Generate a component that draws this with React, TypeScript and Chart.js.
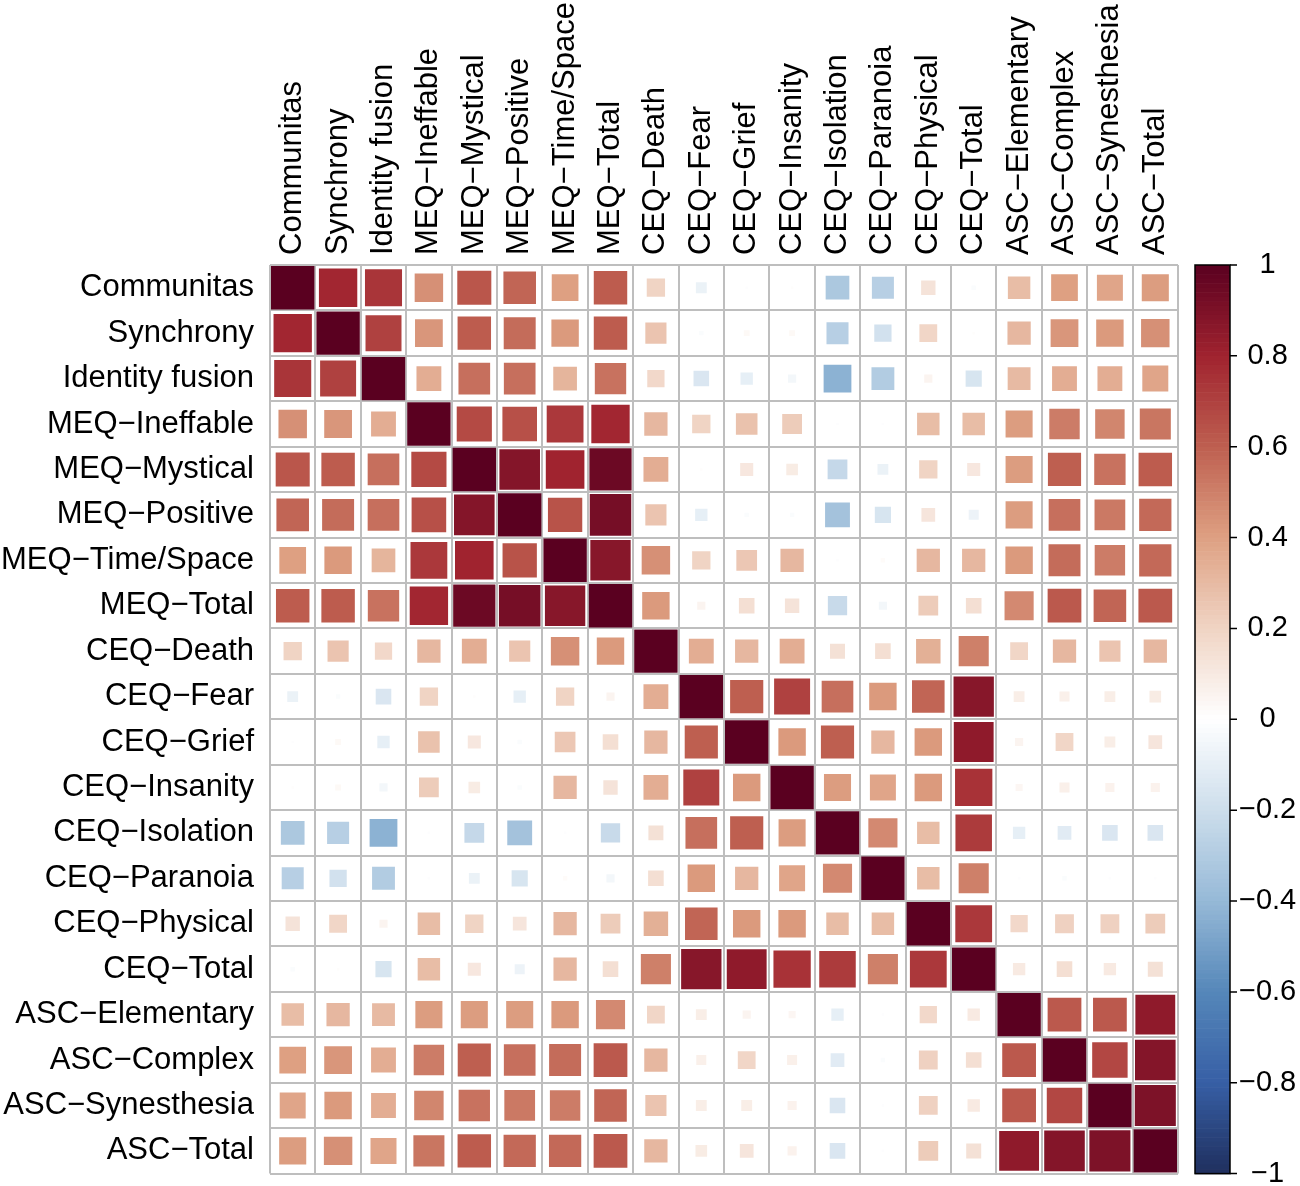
import React, { useEffect, useRef } from 'react';
import { Chart, registerables } from 'chart.js';

Chart.register(...registerables);

const M = '\u2212';

const variables = [
  'Communitas', 'Synchrony', 'Identity fusion',
  `MEQ${M}Ineffable`, `MEQ${M}Mystical`, `MEQ${M}Positive`, `MEQ${M}Time/Space`, `MEQ${M}Total`,
  `CEQ${M}Death`, `CEQ${M}Fear`, `CEQ${M}Grief`, `CEQ${M}Insanity`, `CEQ${M}Isolation`,
  `CEQ${M}Paranoia`, `CEQ${M}Physical`, `CEQ${M}Total`,
  `ASC${M}Elementary`, `ASC${M}Complex`, `ASC${M}Synesthesia`, `ASC${M}Total`,
];

const communitas  = [1.00, 0.79, 0.74, 0.45, 0.63, 0.58, 0.40, 0.61, 0.20, -0.08, -0.01, 0.01, -0.32, -0.28, 0.13, -0.02, 0.29, 0.40, 0.38, 0.41];
const synchrony   = [0.79, 1.00, 0.70, 0.43, 0.61, 0.56, 0.42, 0.61, 0.26, -0.02, 0.03, 0.03, -0.28, -0.18, 0.19, 0.01, 0.31, 0.43, 0.42, 0.45];
const identity    = [0.74, 0.70, 1.00, 0.35, 0.55, 0.55, 0.32, 0.54, 0.18, -0.15, -0.10, -0.05, -0.43, -0.30, 0.05, -0.16, 0.30, 0.35, 0.35, 0.38];
const meqIneff    = [0.45, 0.43, 0.35, 1.00, 0.67, 0.65, 0.73, 0.79, 0.31, 0.20, 0.27, 0.23, -0.01, -0.01, 0.29, 0.29, 0.41, 0.51, 0.48, 0.53];
const meqMystical = [0.63, 0.61, 0.55, 0.67, 1.00, 0.88, 0.80, 0.95, 0.35, 0.01, 0.11, 0.09, -0.23, -0.08, 0.20, 0.11, 0.41, 0.60, 0.54, 0.61];
const meqPositive = [0.58, 0.56, 0.55, 0.65, 0.88, 1.00, 0.64, 0.92, 0.26, -0.10, -0.02, -0.02, -0.35, -0.16, 0.12, -0.07, 0.41, 0.55, 0.52, 0.57];
const meqTime     = [0.40, 0.42, 0.32, 0.73, 0.80, 0.64, 1.00, 0.87, 0.45, 0.20, 0.25, 0.31, -0.01, 0.02, 0.31, 0.31, 0.42, 0.56, 0.51, 0.57];
const meqTotal    = [0.61, 0.61, 0.54, 0.79, 0.95, 0.92, 0.87, 1.00, 0.42, 0.05, 0.15, 0.13, -0.22, -0.05, 0.23, 0.15, 0.47, 0.62, 0.58, 0.62];
const ceqDeath    = [0.20, 0.26, 0.18, 0.31, 0.35, 0.26, 0.45, 0.42, 1.00, 0.35, 0.31, 0.35, 0.14, 0.15, 0.34, 0.50, 0.19, 0.31, 0.26, 0.31];
const ceqFear     = [-0.08, -0.02, -0.15, 0.20, 0.01, -0.10, 0.20, 0.05, 0.35, 1.00, 0.60, 0.70, 0.55, 0.42, 0.58, 0.87, 0.08, 0.07, 0.08, 0.09];
const ceqGrief    = [-0.01, 0.03, -0.10, 0.27, 0.11, -0.02, 0.25, 0.15, 0.31, 0.60, 1.00, 0.42, 0.60, 0.31, 0.42, 0.85, 0.05, 0.19, 0.08, 0.12];
const ceqInsanity = [0.01, 0.03, -0.05, 0.23, 0.09, -0.02, 0.31, 0.13, 0.35, 0.70, 0.42, 1.00, 0.41, 0.38, 0.42, 0.75, 0.04, 0.07, 0.06, 0.06];
const ceqIsolation= [-0.32, -0.28, -0.43, -0.01, -0.23, -0.35, -0.01, -0.22, 0.14, 0.55, 0.60, 0.41, 1.00, 0.47, 0.29, 0.72, -0.10, -0.12, -0.15, -0.15];
const ceqParanoia = [-0.28, -0.18, -0.30, -0.01, -0.08, -0.16, 0.02, -0.05, 0.15, 0.42, 0.31, 0.38, 0.47, 1.00, 0.29, 0.50, -0.01, -0.02, -0.01, -0.01];
const ceqPhysical = [0.13, 0.19, 0.05, 0.29, 0.20, 0.12, 0.31, 0.23, 0.34, 0.58, 0.42, 0.42, 0.29, 0.29, 1.00, 0.73, 0.18, 0.21, 0.21, 0.23];
const ceqTotal    = [-0.02, 0.01, -0.16, 0.29, 0.11, -0.07, 0.31, 0.15, 0.50, 0.87, 0.85, 0.75, 0.72, 0.50, 0.73, 1.00, 0.10, 0.15, 0.10, 0.14];
const ascElem     = [0.29, 0.31, 0.30, 0.41, 0.41, 0.41, 0.42, 0.47, 0.19, 0.08, 0.05, 0.04, -0.10, -0.01, 0.18, 0.10, 1.00, 0.62, 0.62, 0.85];
const ascComplex  = [0.40, 0.43, 0.35, 0.51, 0.60, 0.55, 0.56, 0.62, 0.31, 0.07, 0.19, 0.07, -0.12, -0.02, 0.21, 0.15, 0.62, 1.00, 0.68, 0.88];
const ascSyn      = [0.38, 0.42, 0.35, 0.48, 0.54, 0.52, 0.51, 0.58, 0.26, 0.08, 0.08, 0.06, -0.15, -0.01, 0.21, 0.10, 0.62, 0.68, 1.00, 0.90];
const ascTotal    = [0.41, 0.45, 0.38, 0.53, 0.61, 0.57, 0.57, 0.62, 0.31, 0.09, 0.12, 0.06, -0.15, -0.01, 0.23, 0.14, 0.85, 0.88, 0.90, 1.00];

const matrixRows = [
  communitas, synchrony, identity, meqIneff, meqMystical, meqPositive, meqTime, meqTotal,
  ceqDeath, ceqFear, ceqGrief, ceqInsanity, ceqIsolation, ceqParanoia, ceqPhysical, ceqTotal,
  ascElem, ascComplex, ascSyn, ascTotal,
];

const legendTicks = [-1, -0.8, -0.6, -0.4, -0.2, 0, 0.2, 0.4, 0.6, 0.8, 1];

// colour stops at -1, -0.8, ..., 0.8, 1
const palette = ['#1F2F5E', '#375FA5', '#5587B9', '#96B9D7', '#CDDEEC', '#FFFFFF',
  '#F0D4C4', '#DEA082', '#BE5F50', '#A0232F', '#5A0020'];

function hexToRgb(h: string) {
  return [parseInt(h.slice(1, 3), 16), parseInt(h.slice(3, 5), 16), parseInt(h.slice(5, 7), 16)];
}

function colorFor(r: number) {
  const t = ((r + 1) / 2) * 10;
  const i = Math.max(0, Math.min(9, Math.floor(t)));
  const f = Math.max(0, Math.min(1, t - i));
  const a = hexToRgb(palette[i]);
  const b = hexToRgb(palette[i + 1]);
  const c = a.map((v, k) => Math.round(v + (b[k] - v) * f));
  return `rgb(${c[0]},${c[1]},${c[2]})`;
}

const FONT = '"Liberation Sans", Arial, Helvetica, sans-serif';
const LABEL_SIZE = 31;

const colorbarPlugin = {
  id: 'colorbar',
  afterDraw(chart: any) {
    const ctx = chart.ctx;
    const s = chart.scales.cbar;
    const area = chart.chartArea;
    const x0 = area.right + 17;
    const w = 35;
    const top = s.getPixelForValue(1);
    const bottom = s.getPixelForValue(-1);
    ctx.save();
    const n = 200;
    const h = (bottom - top) / n;
    for (let k = 0; k < n; k++) {
      const v = 1 - (k + 0.5) * (2 / n);
      ctx.fillStyle = colorFor(v);
      ctx.fillRect(x0, top + k * h, w, h + 0.6);
    }
    ctx.strokeStyle = '#000';
    ctx.lineWidth = 1.5;
    ctx.strokeRect(x0, top, w, bottom - top);
    ctx.beginPath();
    legendTicks.forEach((v) => {
      const y = s.getPixelForValue(v);
      ctx.moveTo(x0 + w, y);
      ctx.lineTo(x0 + w + 7, y);
    });
    ctx.stroke();
    ctx.restore();
  },
};

export default function App() {
  const ref = useRef<HTMLCanvasElement | null>(null);

  useEffect(() => {
    if (!ref.current) return;
    const points: any[] = [];
    matrixRows.forEach((row, i) => {
      row.forEach((r, j) => {
        points.push({ x: variables[j], y: variables[i], r });
      });
    });

    const radius = (ctx: any) => {
      const raw = ctx.raw;
      if (!raw) return 0;
      const xs = ctx.chart.scales.x;
      const cell = xs.width / variables.length;
      const side = Math.sqrt(Math.abs(raw.r)) * cell - 2;
      return Math.max(0.5, side) / Math.SQRT2;
    };

    const chart = new Chart(ref.current, {
      type: 'scatter',
      data: {
        datasets: [
          {
            data: points,
            pointStyle: 'rect',
            pointRadius: radius,
            pointHoverRadius: radius,
            pointBorderWidth: 0,
            pointBackgroundColor: (ctx: any) => (ctx.raw ? colorFor(ctx.raw.r) : '#fff'),
            pointBorderColor: (ctx: any) => (ctx.raw ? colorFor(ctx.raw.r) : '#fff'),
          } as any,
        ],
      },
      options: {
        animation: false,
        responsive: false,
        maintainAspectRatio: false,
        events: [],
        layout: { padding: { left: 0, right: 0, top: 0, bottom: 12.4 } },
        plugins: { legend: { display: false }, tooltip: { enabled: false } },
        scales: {
          x: {
            type: 'category',
            labels: variables,
            position: 'top',
            offset: true,
            grid: { offset: true, color: '#BEBEBE', lineWidth: 2, drawTicks: false },
            border: { display: false },
            ticks: {
              autoSkip: false,
              minRotation: 90,
              maxRotation: 90,
              padding: 10,
              labelOffset: LABEL_SIZE * 1.2,
              color: '#000',
              font: { family: FONT, size: LABEL_SIZE },
            },
            afterFit: (scale: any) => { scale.height = 265; },
          },
          y: {
            type: 'category',
            labels: variables,
            position: 'left',
            offset: true,
            grid: {
              offset: true, color: '#BEBEBE', lineWidth: 2,
              drawTicks: true, tickLength: 16, tickColor: 'rgba(0,0,0,0)',
            },
            border: { display: false },
            ticks: {
              autoSkip: false,
              padding: 0,
              color: '#000',
              font: { family: FONT, size: LABEL_SIZE, lineHeight: 0.1 },
            },
            afterFit: (scale: any) => { scale.width = 270; },
          },
          cbar: {
            type: 'linear',
            position: 'right',
            min: -1,
            max: 1,
            grid: {
              display: true, drawOnChartArea: false, drawTicks: true,
              tickLength: 61, tickColor: 'rgba(0,0,0,0)',
            },
            border: { display: false },
            afterBuildTicks: (scale: any) => {
              scale.ticks = legendTicks.map((v) => ({ value: v }));
            },
            ticks: {
              padding: 0,
              crossAlign: 'center',
              color: '#000',
              font: { family: FONT, size: 29, lineHeight: 0.1 },
              callback: (v: any) => {
                const s = Math.round(Number(v) * 10) / 10;
                return s < 0 ? M + String(-s) : String(s);
              },
            },
            afterFit: (scale: any) => { scale.width = 122; },
          },
        } as any,
      },
      plugins: [colorbarPlugin],
    });
    return () => chart.destroy();
  }, []);

  return (
    <div style={{ position: 'absolute', left: 0, top: 0, width: 1300, height: 1186, background: '#fff' }}>
      <canvas ref={ref} width={1300} height={1186} style={{ width: 1300, height: 1186 }} />
    </div>
  );
}
